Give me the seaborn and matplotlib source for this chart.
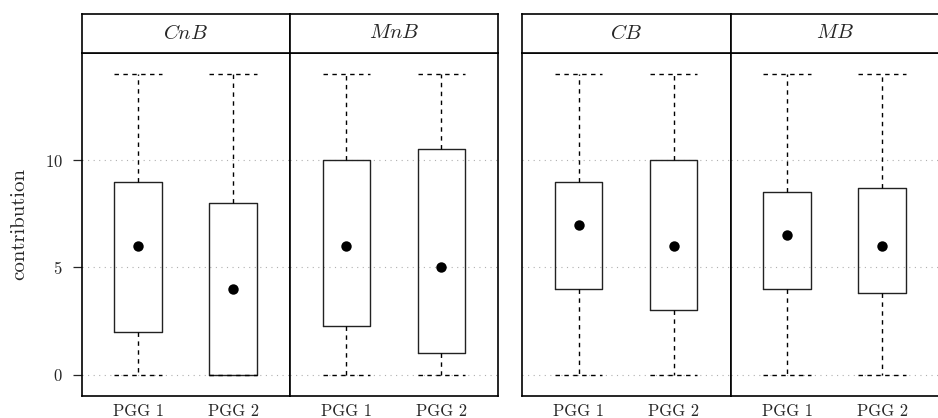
import pandas as pd
import matplotlib
matplotlib.use("Agg")
import matplotlib.pyplot as plt
import seaborn as sns

# -----------------------
# Data
# -----------------------
panels = ["CnB", "MnB", "CB", "MB"]
sessions = ["PGG 1", "PGG 2"]

# one entry per box, order: CnB/PGG1, CnB/PGG2, MnB/PGG1, MnB/PGG2, CB/..., MB/...
box_panel = ["CnB", "CnB", "MnB", "MnB", "CB", "CB", "MB", "MB"]
box_session = ["PGG 1", "PGG 2"] * 4
whisker_low = [0, 0, 0, 0, 0, 0, 0, 0]
quart_low = [2, 0, 2.25, 1, 4, 3, 4, 3.8]
median = [6, 4, 6, 5, 7, 6, 6.5, 6]
quart_high = [9, 8, 10, 10.5, 9, 10, 8.5, 8.7]
whisker_high = [14, 14, 14, 14, 14, 14, 14, 14]

y_ticks = [0, 5, 10]

# long table: the five summary values of every box
rows = []
for i in range(len(box_panel)):
    for v in [whisker_low[i], quart_low[i], median[i], quart_high[i], whisker_high[i]]:
        rows.append({"panel": box_panel[i], "session": box_session[i], "contribution": v})
df = pd.DataFrame(rows)
med_df = pd.DataFrame({"panel": box_panel, "session": box_session, "contribution": median})

# -----------------------
# Style
# -----------------------
sns.set_style("white")
plt.rcParams["font.family"] = ["cmr10", "DejaVu Serif"]
plt.rcParams["mathtext.fontset"] = "cm"
plt.rcParams["axes.unicode_minus"] = False
plt.rcParams["axes.formatter.use_mathtext"] = True

fig = plt.figure(figsize=(9.38, 4.18), dpi=100)

W, H = 938, 418
panel_left = [81.7, 290.0, 522.3, 730.7]
panel_w = 208.4
panel_top, panel_bot = 53.0, 396.0
strip_top = 14.0

dash = (0, (3.2, 3.2))

for k, name in enumerate(panels):
    x0 = panel_left[k] / W
    ax = fig.add_axes([x0, (H - panel_bot) / H, panel_w / W, (panel_bot - panel_top) / H])
    sub = df[df["panel"] == name]
    sns.boxplot(
        data=sub, x="session", y="contribution", order=sessions,
        whis=(0, 100), width=0.5, fill=False, color="#222222", linewidth=1.0,
        medianprops={"visible": False},
        whiskerprops={"linestyle": dash, "color": "black"},
        capprops={"linestyle": dash, "color": "black"},
        capwidths=0.5, ax=ax,
    )
    sns.stripplot(
        data=med_df[med_df["panel"] == name], x="session", y="contribution",
        order=sessions, jitter=False, color="black", size=7.5, ax=ax, zorder=5,
    )
    ax.set_xlim(-0.593, 1.6)
    ax.set_ylim(-1, 15)
    ax.set_yticks(y_ticks)
    ax.grid(axis="y", linestyle=(0, (1, 4)), color="#b0b0b0", linewidth=0.8)
    ax.set_axisbelow(True)
    ax.set_xlabel("")
    ax.tick_params(axis="x", bottom=False, pad=2, labelsize=12)
    for s in ax.spines.values():
        s.set_visible(True)
        s.set_color("black")
        s.set_linewidth(1.2)
    if k == 0:
        ax.tick_params(axis="y", left=True, length=6.5, width=0.9, direction="out",
                       pad=7, labelsize=12)
        ax.set_ylabel("contribution", fontsize=15, labelpad=12)
    else:
        ax.tick_params(axis="y", left=False, labelleft=False)
        ax.set_ylabel("")

    # strip on top of the panel
    st = fig.add_axes([x0, (H - panel_top) / H, panel_w / W, (panel_top - strip_top) / H])
    st.set_xticks([])
    st.set_yticks([])
    for s in st.spines.values():
        s.set_visible(True)
        s.set_color("black")
        s.set_linewidth(1.2)
    st.text(0.5, 0.5, f"${name}$", ha="center", va="center", fontsize=15,
            transform=st.transAxes)

fig.savefig("out.png", dpi=100)
